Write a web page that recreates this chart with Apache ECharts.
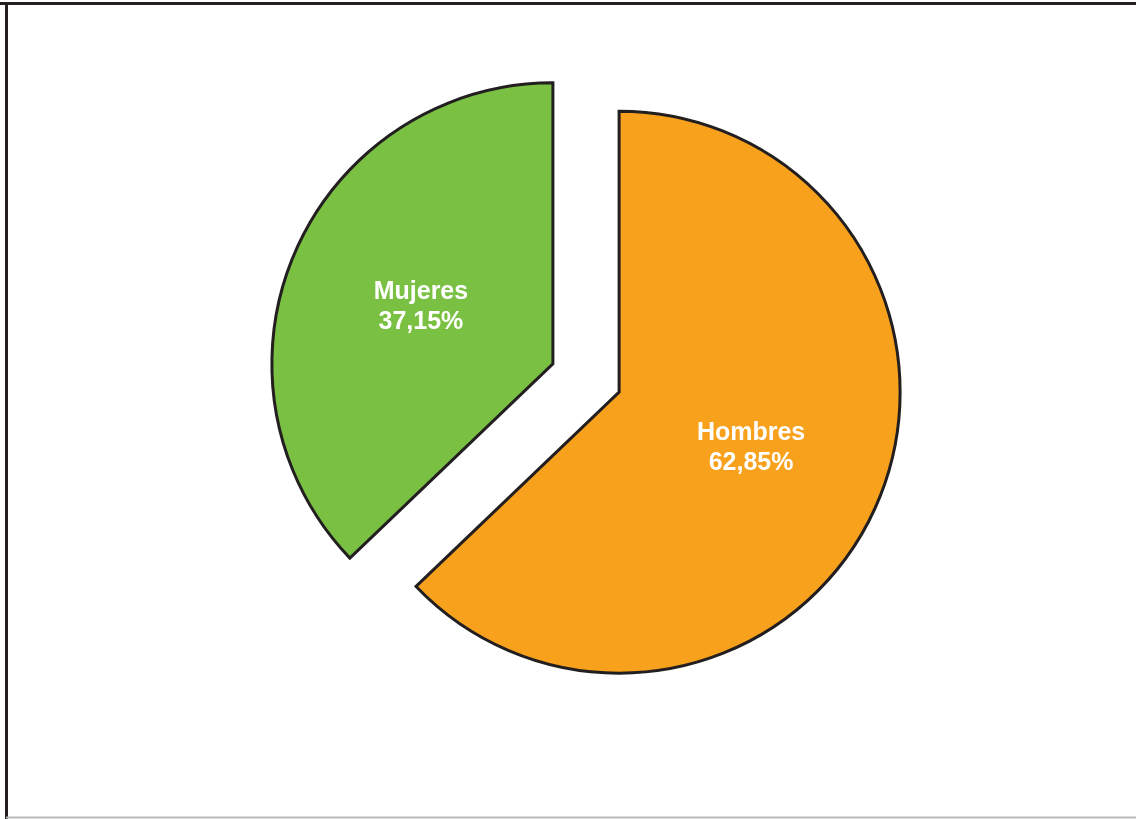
<!DOCTYPE html>
<html>
<head>
<meta charset="utf-8">
<script src="https://cdn.jsdelivr.net/npm/echarts@6/dist/echarts.min.js"></script>
<style>html,body{margin:0;padding:0;background:#fff}#c{width:1136px;height:819px}</style>
</head>
<body>
<div id="c"></div>
<script>
var categories = ['Hombres', 'Mujeres'];
var values = [62.85, 37.15];
var colors = ['#F7A11C', '#7AC143'];
var labelNudges = [[-2, 1], [4, 3]];

var chart = echarts.init(document.getElementById('c'), null, {renderer: 'canvas'});
chart.setOption({
  animation: false,
  backgroundColor: '#ffffff',
  graphic: [
    {type: 'line', shape: {x1: 0, y1: 3.5, x2: 1136, y2: 3.5}, style: {stroke: '#231F20', lineWidth: 3}},
    {type: 'line', shape: {x1: 6.5, y1: 2, x2: 6.5, y2: 819}, style: {stroke: '#231F20', lineWidth: 3}},
    {type: 'line', shape: {x1: 6, y1: 817.5, x2: 1136, y2: 817.5}, style: {stroke: '#BBBBBB', lineWidth: 2}}
  ],
  series: [{
    type: 'pie',
    center: [586, 378],
    radius: [0, 281],
    startAngle: 90,
    clockwise: true,
    selectedMode: 'multiple',
    selectedOffset: 36,
    silent: true,
    itemStyle: {borderColor: '#231F20', borderWidth: 3, borderJoin: 'miter'},
    label: {
      show: true,
      position: 'inner',
      color: '#ffffff',
      fontFamily: '"Liberation Sans", Arial, sans-serif',
      fontWeight: 'bold',
      fontSize: 25,
      lineHeight: 30,
      formatter: function (p) { return p.name + '\n' + p.value.toFixed(2).replace('.', ',') + '%'; }
    },
    labelLine: {show: false},
    data: categories.map(function (c, i) {
      return {name: c, value: values[i], selected: true, itemStyle: {color: colors[i]}, label: {offset: labelNudges[i]}};
    })
  }]
});
</script>
</body>
</html>
